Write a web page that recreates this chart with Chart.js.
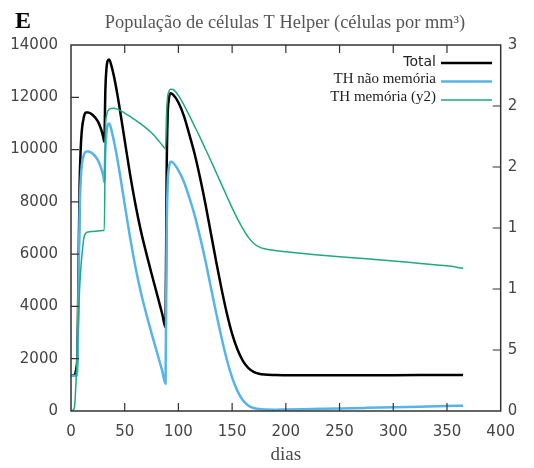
<!DOCTYPE html>
<html>
<head>
<meta charset="utf-8">
<script src="https://cdn.jsdelivr.net/npm/chart.js@4.4.0/dist/chart.umd.min.js"></script>
<style>
  html, body { margin: 0; padding: 0; background: #fff; overflow: hidden; }
  canvas { display: block; }
</style>
</head>
<body>
<canvas id="c" width="527" height="468"></canvas>
<script>
// Simulation time (days)
const days = [0, 3, 5, 6, 7, 8, 9, 10, 12, 14,
  16, 20, 25, 28, 30, 31, 32, 33, 34, 35.5,
  37, 40, 43, 46, 50, 55, 60, 65, 70, 75,
  80, 85, 88, 89, 90, 91, 92.5, 95, 100, 105,
  110, 115, 120, 125, 130, 135, 140, 145, 150, 155,
  160, 165, 170, 175, 180, 190, 200, 225, 250, 275,
  300, 325, 350, 365];

// Total T helper cells (cells per mm³)
const totalCells = [1350, 1370, 1650, 2200, 5400, 8600, 10000, 10700, 11250, 11420,
  11420, 11330, 11075, 10780, 10480, 10300, 12300, 13100, 13380, 13450,
  13300, 12800, 12150, 11400, 10350, 9050, 7900, 6900, 6050, 5250,
  4480, 3700, 3200, 9000, 11300, 11900, 12150, 12100, 11800, 11300,
  10600, 9850, 8950, 7950, 6850, 5750, 4700, 3750, 2950, 2350,
  1920, 1650, 1500, 1425, 1392, 1375, 1370, 1365, 1365, 1368,
  1372, 1376, 1380, 1378];

// Non-memory T helper cells
const naiveCells = [1350, 1350, 1350, 1700, 4600, 7600, 8800, 9400, 9800, 9920,
  9930, 9850, 9600, 9300, 9000, 8750, 10000, 10650, 10920, 11000,
  10850, 10320, 9680, 8940, 7900, 6630, 5510, 4540, 3730, 2970,
  2250, 1520, 1050, 6600, 8700, 9250, 9530, 9500, 9200, 8780,
  8180, 7500, 6680, 5780, 4770, 3780, 2830, 1980, 1280, 760,
  410, 210, 115, 75, 58, 52, 58, 78, 98, 120,
  143, 165, 188, 205];

// Memory T helper cells (right axis)
const memoryCells = [0, 20, 300, 550, 800, 1000, 1150, 1260, 1420, 1460,
  1468, 1472, 1475, 1478, 1480, 1480, 2300, 2420, 2455, 2472,
  2480, 2482, 2474, 2462, 2442, 2414, 2385, 2353, 2319, 2280,
  2232, 2178, 2150, 2450, 2580, 2615, 2638, 2635, 2585, 2510,
  2425, 2335, 2245, 2150, 2055, 1958, 1860, 1762, 1665, 1575,
  1495, 1425, 1375, 1345, 1330, 1315, 1305, 1283, 1265, 1248,
  1230, 1210, 1190, 1170];

const xTickValues = [0, 50, 100, 150, 200, 250, 300, 350, 400];
const yTickValues = [0, 2000, 4000, 6000, 8000, 10000, 12000, 14000];
const y2TickValues = [0, 500, 1000, 1500, 2000, 2500, 3000];

const seriesNames = ['Total', 'TH não memória', 'TH memória (y2)'];
const chartTitle = 'População de células T Helper (células por mm³)';
const panelLetter = 'E';
const xAxisTitle = 'dias';

const toPoints = (vals) => days.map((d, i) => ({ x: d, y: vals[i] }));
const useTicks = (vals) => (scale) => { scale.ticks = vals.map(v => ({ value: v })); };
const plainNumber = (v) => String(v);

const TICK_COLOR = '#444';
const FRAME_COLOR = '#333';

// Border box, inward tick marks, titles and the in-plot key
const decorations = {
  id: 'decorations',
  afterDatasetsDraw(chart) {
    const { ctx, chartArea: a, scales } = chart;
    ctx.save();
    ctx.strokeStyle = FRAME_COLOR;
    ctx.lineWidth = 1.5;
    ctx.strokeRect(a.left, a.top, a.right - a.left, a.bottom - a.top);
    ctx.lineWidth = 1.2;
    ctx.beginPath();
    const tl = 8;
    xTickValues.forEach(v => {
      const px = scales.x.getPixelForValue(v);
      if (px <= a.left + 1 || px >= a.right - 1) return;
      ctx.moveTo(px, a.bottom); ctx.lineTo(px, a.bottom - tl);
      ctx.moveTo(px, a.top); ctx.lineTo(px, a.top + tl);
    });
    yTickValues.forEach(v => {
      const py = scales.y.getPixelForValue(v);
      if (py <= a.top + 1 || py >= a.bottom - 1) return;
      ctx.moveTo(a.left, py); ctx.lineTo(a.left + tl, py);
    });
    y2TickValues.forEach(v => {
      const py = scales.y2.getPixelForValue(v);
      if (py <= a.top + 1 || py >= a.bottom - 1) return;
      ctx.moveTo(a.right, py); ctx.lineTo(a.right - tl, py);
    });
    ctx.stroke();

    // Panel letter and title
    ctx.fillStyle = '#000';
    ctx.textAlign = 'left';
    ctx.textBaseline = 'alphabetic';
    ctx.font = 'bold 24px "Liberation Serif"';
    ctx.fillText(panelLetter, 15, 28);
    ctx.fillStyle = '#555';
    ctx.textAlign = 'center';
    ctx.font = '18.4px "Liberation Serif"';
    ctx.fillText(chartTitle, 285, 28);

    // Key
    const ds = chart.data.datasets;
    const rows = [
      { y: 62, line: 63, font: '14px "DejaVu Sans"', color: '#222' },
      { y: 79, line: 81.5, font: '15px "Liberation Serif"', color: '#222' },
      { y: 97, line: 100, font: '15px "Liberation Serif"', color: '#222' }
    ];
    ctx.textAlign = 'right';
    ctx.textBaseline = 'middle';
    rows.forEach((r, i) => {
      ctx.font = r.font;
      ctx.fillStyle = r.color;
      ctx.fillText(seriesNames[i], 436, r.y);
      ctx.strokeStyle = ds[i].borderColor;
      ctx.lineWidth = ds[i].borderWidth;
      ctx.beginPath();
      ctx.moveTo(441, r.line);
      ctx.lineTo(492, r.line);
      ctx.stroke();
    });
    ctx.restore();
  }
};

const tickFont = { family: '"DejaVu Sans"', size: 15 };

new Chart(document.getElementById('c'), {
  type: 'line',
  data: {
    datasets: [
      { label: seriesNames[0], data: toPoints(totalCells), yAxisID: 'y',
        borderColor: '#000000', borderWidth: 2.5, order: 3 },
      { label: seriesNames[1], data: toPoints(naiveCells), yAxisID: 'y',
        borderColor: '#56b4e9', borderWidth: 2.5, order: 2 },
      { label: seriesNames[2], data: toPoints(memoryCells), yAxisID: 'y2',
        borderColor: '#1fa97c', borderWidth: 1.5, order: 1 }
    ]
  },
  options: {
    responsive: false,
    animation: false,
    events: [],
    layout: { padding: { top: 45, left: 0, right: 0, bottom: 0 } },
    elements: {
      point: { radius: 0 },
      line: { cubicInterpolationMode: 'monotone', fill: false }
    },
    plugins: { legend: { display: false }, tooltip: { enabled: false }, title: { display: false } },
    scales: {
      x: {
        type: 'linear', min: 0, max: 400,
        afterBuildTicks: useTicks(xTickValues),
        afterFit: (s) => { s.height = 57; },
        grid: { display: false, drawTicks: false },
        border: { display: false },
        ticks: { color: TICK_COLOR, font: tickFont, padding: 12, maxRotation: 0, callback: plainNumber },
        title: { display: true, text: xAxisTitle, color: '#4a4a4a',
                 font: { family: '"Liberation Serif"', size: 19 }, padding: { top: 0, bottom: 2 } }
      },
      y: {
        type: 'linear', position: 'left', min: 0, max: 14000,
        afterBuildTicks: useTicks(yTickValues),
        afterFit: (s) => { s.width = 71; },
        grid: { display: false, drawTicks: false },
        border: { display: false },
        ticks: { color: TICK_COLOR, font: tickFont, padding: 13, callback: plainNumber }
      },
      y2: {
        type: 'linear', position: 'right', min: 0, max: 3000,
        afterBuildTicks: useTicks(y2TickValues),
        afterFit: (s) => { s.width = 16; },
        grid: { display: false, drawTicks: false },
        border: { display: false },
        ticks: { color: TICK_COLOR, font: tickFont, padding: 7, callback: plainNumber }
      }
    }
  },
  plugins: [decorations]
});
</script>
</body>
</html>
